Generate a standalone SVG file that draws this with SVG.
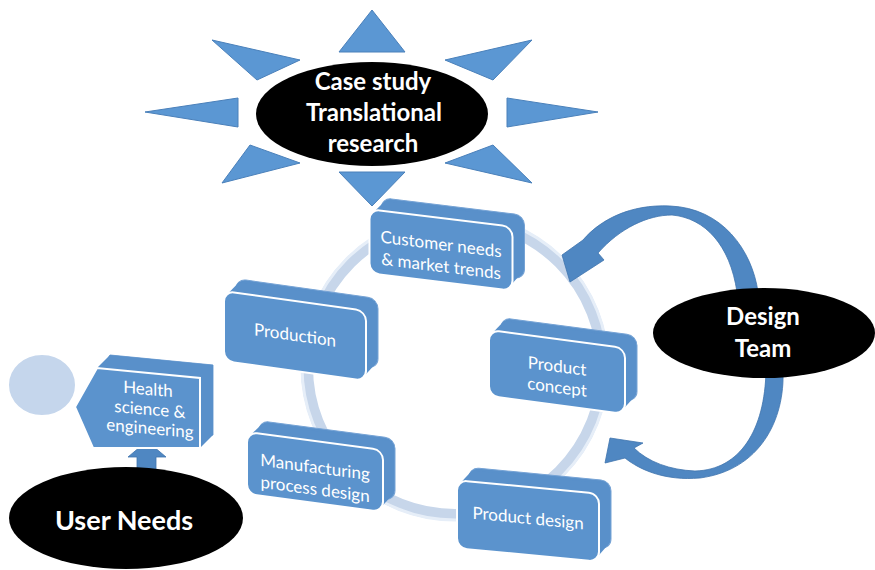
<svg xmlns="http://www.w3.org/2000/svg" width="875" height="570" viewBox="0 0 875 570">
  <style>
    .ray { fill: #5b97d3; stroke: #4a80ba; stroke-width: 1; }
    .oval { fill: #000; }
    .oval-text { fill: #fff; font-family: Lato, "Open Sans", "Liberation Sans", sans-serif; font-weight: bold; text-anchor: middle; }
    .ring { fill: none; stroke: #c7d6ea; stroke-width: 12; }
    .ring-hi { fill: none; stroke: #e6eef8; stroke-width: 3; }
    .depth { fill: #5990ca; stroke: #76a3d5; stroke-width: 1; }
    .fill-only { stroke: none; }
    .face { fill: #5b93cd; stroke: #fff; stroke-width: 2; }
    .box-text { fill: #fff; font-family: Lato, "Open Sans", "Liberation Sans", sans-serif; font-size: 17px; text-anchor: middle; }
    .loop { fill: #4f87c2; stroke: #3f74ad; stroke-width: 0.8; }
  </style>

  <!-- cycle ring behind the stage boxes -->
  <g id="cycle-ring">
    <circle class="ring" cx="455" cy="367" r="148"/>
    <circle class="ring-hi" cx="455" cy="367" r="153"/>
  </g>

  <!-- sun: rays around the central oval -->
  <g id="case-study">
    <polygon class="ray" points="372,10 339,52 405,52"/>
    <polygon class="ray" points="339,172 405,172 372,206"/>
    <polygon class="ray" points="145,112 238,98 238,127"/>
    <polygon class="ray" points="598,112 507,98 507,127"/>
    <polygon class="ray" points="212,40 300,60 257,80"/>
    <polygon class="ray" points="532,40 445,60 493,80"/>
    <polygon class="ray" points="222,183 250,145 300,163"/>
    <polygon class="ray" points="532,183 493,145 445,163"/>
    <ellipse class="oval" cx="372" cy="114" rx="116" ry="52"/>
    <text class="oval-text" font-size="24" x="373" y="90">Case study</text>
    <text class="oval-text" font-size="24" x="374" y="121">Translational</text>
    <text class="oval-text" font-size="24" x="373" y="152">research</text>
  </g>

  <!-- connectors -->
  <g id="connectors">
    <!-- design team feeds back into customer needs -->
    <path class="loop" d="M 758 292 C 752 250, 722 208, 670 206 C 630 204, 600 220, 583 240 L 562 255 L 570 282 L 604 260 L 598 253 C 620 228, 648 215, 672 215 C 705 218, 730 245, 737 292 Z"/>
    <!-- design team feeds back into product concept -->
    <path class="loop" d="M 783 370 C 785 420, 760 470, 700 478 C 665 481, 640 470, 625 458 L 605 463 L 610 438 L 643 443 L 634 448 C 648 462, 670 470, 695 471 C 740 470, 765 430, 766 370 Z"/>
    <!-- user needs up into health science -->
    <polygon class="loop" points="147,441 166,457 156,457 156,476 137,476 137,457 128,457"/>
  </g>

  <!-- design team oval -->
  <g id="design-team">
    <ellipse class="oval" cx="764" cy="333" rx="111" ry="45"/>
    <text class="oval-text" font-size="24" x="763" y="325">Design</text>
    <text class="oval-text" font-size="24" x="763" y="357">Team</text>
  </g>

  <!-- stage: customer needs -->
  <g id="customer-needs" transform="translate(441,250) skewY(7)">
    <rect class="depth" x="-59.5" y="-45" width="143" height="64" rx="10"/>
    <polygon class="depth fill-only" points="-68,-29 -56,-42 80,-42 80,14 68,29"/>
    <rect class="face" x="-71.5" y="-32" width="143" height="64" rx="10"/>
    <text class="box-text" x="0" y="0">Customer needs</text>
    <text class="box-text" x="0" y="22">&amp; market trends</text>
  </g>

  <!-- stage: production -->
  <g id="production" transform="translate(295,336) skewY(8)">
    <rect class="depth" x="-59" y="-49" width="142" height="70" rx="10"/>
    <polygon class="depth fill-only" points="-68,-32 -56,-46 80,-46 80,17 68,32"/>
    <rect class="face" x="-71" y="-35" width="142" height="70" rx="10"/>
    <text class="box-text" x="0" y="5">Production</text>
  </g>

  <!-- stage: product concept -->
  <g id="product-concept" transform="translate(557,372) skewY(7.5)">
    <rect class="depth" x="-56" y="-47" width="136" height="66" rx="10"/>
    <polygon class="depth fill-only" points="-65,-30 -53,-44 77,-44 77,15 65,30"/>
    <rect class="face" x="-68" y="-33" width="136" height="66" rx="10"/>
    <text class="box-text" x="0" y="0">Product</text>
    <text class="box-text" x="0" y="21">concept</text>
  </g>

  <!-- stage: product design -->
  <g id="product-design" transform="translate(528,521) skewY(5.5)">
    <rect class="depth" x="-59" y="-48" width="142" height="68" rx="10"/>
    <polygon class="depth fill-only" points="-68,-31 -56,-45 80,-45 80,16 68,31"/>
    <rect class="face" x="-71" y="-34" width="142" height="68" rx="10"/>
    <text class="box-text" x="0" y="3">Product design</text>
  </g>

  <!-- stage: manufacturing process design -->
  <g id="manufacturing" transform="translate(315,472) skewY(7.5)">
    <rect class="depth" x="-56" y="-44" width="136" height="62" rx="10"/>
    <polygon class="depth fill-only" points="-65,-28 -53,-41 77,-41 77,13 65,28"/>
    <rect class="face" x="-68" y="-31" width="136" height="62" rx="10"/>
    <text class="box-text" x="0" y="1">Manufacturing</text>
    <text class="box-text" x="0" y="23">process design</text>
  </g>

  <!-- health science & engineering with its disc -->
  <g id="health-science">
    <ellipse cx="42" cy="385" rx="34" ry="31" fill="#c5d6ec" stroke="#fff" stroke-width="2"/>
    <polygon class="depth" points="88,394 110,355 213,365 213,435 106,435"/>
    <polygon class="depth fill-only" points="97,368 110,355 213,365 213,435 200,448"/>
    <polygon class="face" points="75,407 97,368 200,378 200,448 93,448"/>
    <g transform="translate(148,0) skewY(5)">
      <text class="box-text" font-size="14" x="0" y="395">Health</text>
      <text class="box-text" font-size="14" x="2" y="415">science &amp;</text>
      <text class="box-text" font-size="14" x="2" y="434">engineering</text>
    </g>
  </g>

  <!-- user needs oval -->
  <g id="user-needs">
    <ellipse class="oval" cx="126" cy="518" rx="117" ry="51"/>
    <text class="oval-text" font-size="27" x="124" y="530">User Needs</text>
  </g>
</svg>
